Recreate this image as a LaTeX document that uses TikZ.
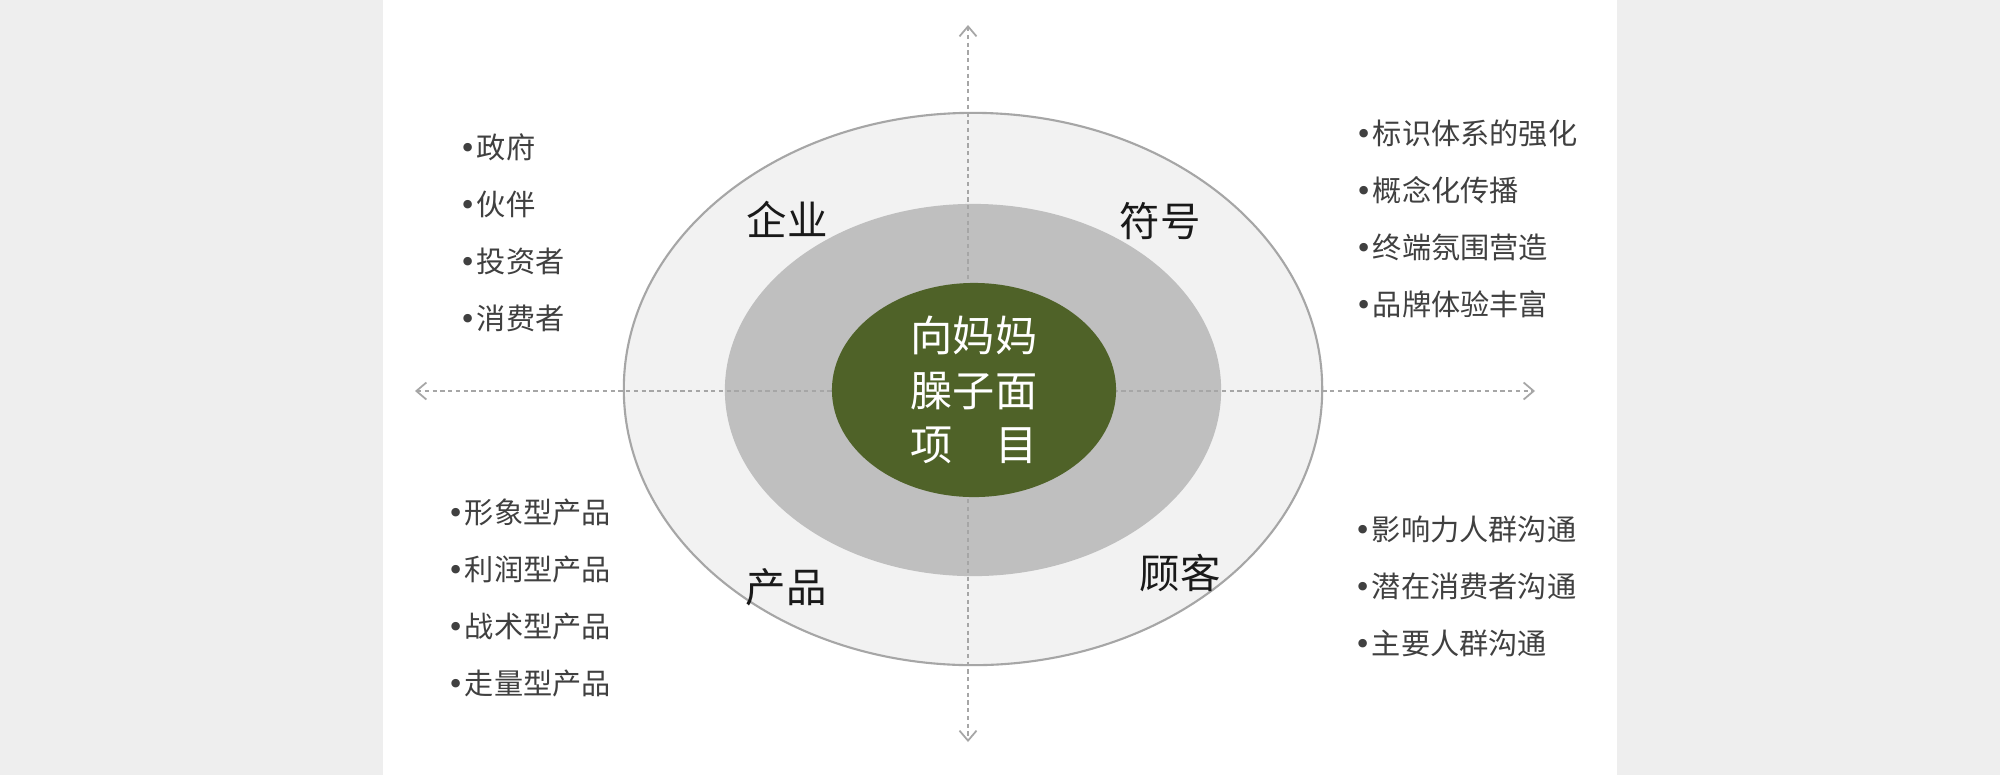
\documentclass[tikz,border=0pt]{standalone}
\usepackage{fontspec}
\setmainfont{Noto Sans CJK SC}
\newfontfamily\dotfont{DejaVu Sans}
\usetikzlibrary{arrows.meta,shapes.geometric,positioning}
\definecolor{pagegray}{HTML}{EEEEEE}
\definecolor{ringlight}{HTML}{F2F2F2}
\definecolor{ringmid}{HTML}{BFBFBF}
\definecolor{coregreen}{HTML}{4F6228}
\definecolor{axisgray}{HTML}{A6A6A6}
\definecolor{listgray}{HTML}{404040}
\newcommand{\dotitem}{{\dotfont •}}

\begin{document}
\begin{tikzpicture}[x=0.01cm,y=-0.01cm,>={Straight Barb[length=0.1cm,width=0.17cm]},
  ring/.style={ellipse,inner sep=0pt,outer sep=0pt},
  axis/.style={<->,draw=axisgray,line width=0.5pt,dash pattern=on 1.2pt off 1pt},
  quad/.style={font=\fontsize{11.5}{14}\selectfont,text=black!90},
  item/.style={anchor=west,inner sep=0pt,font=\fontsize{8.3}{10}\selectfont,text=listgray},
  node distance=0.57cm]
  \useasboundingbox (0,0) rectangle (2000,775);
  \fill[pagegray] (0,0) rectangle (2000,775);
  \fill[white] (383,0) rectangle (1617,775);

  % rings
  \node[ring,fill=ringlight,draw=axisgray,line width=0.6pt,
        minimum width=6.98cm,minimum height=5.52cm] (outer) at (973,389) {};
  \node[ring,fill=ringmid,minimum width=4.96cm,minimum height=3.72cm] (middle) at (973,390) {};

  % axes
  \coordinate (top) at (968,25);
  \coordinate (bottom) at (968,742);
  \coordinate (left) at (415,391);
  \coordinate (right) at (1535,391);
  \draw[axis] (top) -- (bottom);
  \draw[axis] (left) -- (right);

  \node[ring,fill=coregreen,minimum width=2.84cm,minimum height=2.14cm,text=white,
        align=center,font=\fontsize{12}{15.6}\selectfont] (core) at (974,390)
        {向妈妈\\臊子面\\项　目};

  % quadrants
  \node[quad] (firm)    at (787,219)  {企业};
  \node[quad] (symbol)  at (1160,221) {符号};
  \node[quad] (product) at (786,587)  {产品};
  \node[quad] (client)  at (1180,573) {顾客};

  % lists
  \node[item] (gov) at (459,147) {\dotitem 政府};
  \node[item,below=of gov.west,anchor=west] (partner) {\dotitem 伙伴};
  \node[item,below=of partner.west,anchor=west] (investor) {\dotitem 投资者};
  \node[item,below=of investor.west,anchor=west] (consumer) {\dotitem 消费者};

  \node[item] (ident) at (1355,133) {\dotitem 标识体系的强化};
  \node[item,below=of ident.west,anchor=west] (concept) {\dotitem 概念化传播};
  \node[item,below=of concept.west,anchor=west] (terminal) {\dotitem 终端氛围营造};
  \node[item,below=of terminal.west,anchor=west] (experience) {\dotitem 品牌体验丰富};

  \node[item] (image) at (447,512) {\dotitem 形象型产品};
  \node[item,below=of image.west,anchor=west] (profit) {\dotitem 利润型产品};
  \node[item,below=of profit.west,anchor=west] (tactic) {\dotitem 战术型产品};
  \node[item,below=of tactic.west,anchor=west] (volume) {\dotitem 走量型产品};

  \node[item] (influence) at (1354,529) {\dotitem 影响力人群沟通};
  \node[item,below=of influence.west,anchor=west] (latent) {\dotitem 潜在消费者沟通};
  \node[item,below=of latent.west,anchor=west] (main) {\dotitem 主要人群沟通};
\end{tikzpicture}
\end{document}
